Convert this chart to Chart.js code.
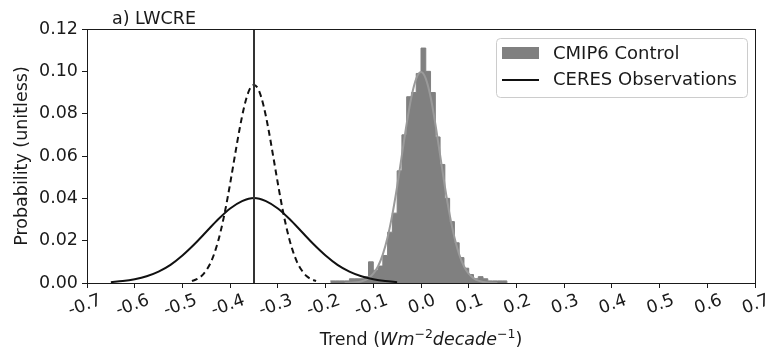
<!DOCTYPE html>
<html>
<head>
<meta charset="utf-8">
<script src="https://cdn.jsdelivr.net/npm/chart.js@4.4.1/dist/chart.umd.min.js"></script>
<style>
  html, body { margin: 0; padding: 0; background: #fff; }
</style>
</head>
<body>
<canvas id="myChart" width="770" height="355"></canvas>
<script>
// CMIP6 control histogram: bin edges (last one closes the final bin) and probability per bin
const binEdges = [-0.19, -0.18, -0.17, -0.16, -0.15, -0.14, -0.13, -0.12, -0.11, -0.10,
                  -0.09, -0.08, -0.07, -0.06, -0.05, -0.04, -0.03, -0.02, -0.01, 0.00,
                  0.01, 0.02, 0.03, 0.04, 0.05, 0.06, 0.07, 0.08, 0.09, 0.10,
                  0.11, 0.12, 0.13, 0.14, 0.15, 0.16, 0.17, 0.18];
const binProbs = [0.001, 0.001, 0.001, 0.001, 0.002, 0.002, 0.002, 0.003, 0.010, 0.006,
                  0.008, 0.013, 0.024, 0.033, 0.053, 0.070, 0.088, 0.090, 0.099, 0.111,
                  0.100, 0.090, 0.069, 0.056, 0.040, 0.029, 0.019, 0.012, 0.007, 0.004,
                  0.002, 0.003, 0.002, 0.001, 0.001, 0.001, 0.001];

// fitted curve drawn over the histogram
const fitX = [-0.16, -0.15, -0.14, -0.13, -0.12, -0.11, -0.10, -0.09, -0.08, -0.07, -0.06,
              -0.05, -0.04, -0.03, -0.02, -0.01, 0.00, 0.01, 0.02, 0.03, 0.04, 0.05,
              0.06, 0.07, 0.08, 0.09, 0.10, 0.11, 0.12, 0.13, 0.14, 0.15, 0.16];
const fitY = [0.0000, 0.0001, 0.0002, 0.0005, 0.0011, 0.0023, 0.0044, 0.0079, 0.0135, 0.0216, 0.0324,
              0.0456, 0.0605, 0.0753, 0.0880, 0.0966, 0.0997, 0.0966, 0.0880, 0.0753, 0.0605, 0.0456,
              0.0324, 0.0216, 0.0135, 0.0079, 0.0044, 0.0023, 0.0011, 0.0005, 0.0002, 0.0001, 0.0000];

// CERES observations: wide (solid) and narrow (dashed) curves, plus the central trend
const obsX = [-0.650, -0.625, -0.600, -0.575, -0.550, -0.525, -0.500, -0.475, -0.450, -0.425,
              -0.400, -0.375, -0.350, -0.325, -0.300, -0.275, -0.250, -0.225, -0.200, -0.175,
              -0.150, -0.125, -0.100, -0.075, -0.050];
const obsY = [0.0004, 0.0009, 0.0018, 0.0032, 0.0054, 0.0086, 0.0130, 0.0183, 0.0242, 0.0301,
              0.0352, 0.0387, 0.0402, 0.0387, 0.0352, 0.0301, 0.0242, 0.0183, 0.0130, 0.0086,
              0.0054, 0.0032, 0.0018, 0.0009, 0.0004];
const obsNarrowX = [-0.48, -0.47, -0.46, -0.45, -0.44, -0.43, -0.42, -0.41, -0.40, -0.39, -0.38,
                    -0.37, -0.36, -0.35, -0.34, -0.33, -0.32, -0.31, -0.30, -0.29, -0.28,
                    -0.27, -0.26, -0.25, -0.24, -0.23, -0.22];
const obsNarrowY = [0.0009, 0.0018, 0.0033, 0.0060, 0.0100, 0.0161, 0.0243, 0.0347, 0.0470, 0.0602, 0.0730,
                    0.0838, 0.0911, 0.0936, 0.0911, 0.0838, 0.0730, 0.0602, 0.0470, 0.0347, 0.0243,
                    0.0161, 0.0100, 0.0060, 0.0033, 0.0018, 0.0009];
const obsTrend = -0.35;

const FONT = '"DejaVu Sans", sans-serif';
const INK = '#1a1a1a';

const toPoints = (xs, ys) => xs.map((x, i) => ({ x: x, y: ys[i] }));

// stepped line needs the closing edge too, dropping to zero
const histData = binEdges.map((x, i) => ({ x: x, y: i < binProbs.length ? binProbs[i] : 0 }));

// frame, panel title, axis label with superscripts, legend box
const extras = {
  id: 'extras',
  afterDraw(chart) {
    const ctx = chart.ctx;
    const a = chart.chartArea;
    ctx.save();

    ctx.strokeStyle = INK;
    ctx.lineWidth = 1;
    ctx.strokeRect(Math.round(a.left) + 0.5, Math.round(a.top) + 0.5,
                   Math.round(a.right - a.left), Math.round(a.bottom - a.top));

    ctx.fillStyle = INK;
    ctx.font = '17.5px ' + FONT;
    ctx.textAlign = 'left';
    ctx.textBaseline = 'alphabetic';
    ctx.fillText('a) LWCRE', 112, 24);

    // x axis label: Trend (Wm^-2 decade^-1)
    const parts = [
      { t: 'Trend (', f: '17.5px ' + FONT, dy: 0 },
      { t: 'Wm', f: 'italic 17.5px ' + FONT, dy: 0 },
      { t: '\u22122', f: '12.5px ' + FONT, dy: -7 },
      { t: 'decade', f: 'italic 17.5px ' + FONT, dy: 0 },
      { t: '\u22121', f: '12.5px ' + FONT, dy: -7 },
      { t: ')', f: '17.5px ' + FONT, dy: 0 }
    ];
    let total = 0;
    parts.forEach(p => { ctx.font = p.f; p.w = ctx.measureText(p.t).width; total += p.w; });
    let x = (a.left + a.right) / 2 - total / 2;
    parts.forEach(p => {
      ctx.font = p.f;
      ctx.fillText(p.t, x, 345 + p.dy);
      x += p.w;
    });

    // legend
    const lx = 496, ly = 38, lw = 251, lh = 59, r = 4;
    ctx.beginPath();
    ctx.roundRect(lx + 0.5, ly + 0.5, lw, lh, r);
    ctx.fillStyle = 'rgba(255,255,255,0.8)';
    ctx.fill();
    ctx.strokeStyle = '#cccccc';
    ctx.lineWidth = 1;
    ctx.stroke();

    const ds = chart.data.datasets;
    ctx.fillStyle = ds[0].backgroundColor;
    ctx.fillRect(502, 47, 37, 12);
    ctx.strokeStyle = ds[2].borderColor;
    ctx.lineWidth = 2;
    ctx.beginPath();
    ctx.moveTo(502, 80);
    ctx.lineTo(539, 80);
    ctx.stroke();

    ctx.fillStyle = INK;
    ctx.font = '18px ' + FONT;
    ctx.textBaseline = 'middle';
    ctx.fillText(ds[0].label, 553, 54);
    ctx.fillText(ds[2].label, 553, 80);
    ctx.restore();
  }
};

const ctx = document.getElementById('myChart').getContext('2d');

new Chart(ctx, {
  type: 'line',
  data: {
    datasets: [
      {
        label: 'CMIP6 Control',
        data: histData,
        stepped: 'before',
        fill: 'origin',
        backgroundColor: '#808080',
        borderColor: '#808080',
        borderWidth: 1,
        pointRadius: 0,
        order: 5
      },
      {
        label: 'Control fit',
        data: toPoints(fitX, fitY),
        borderColor: '#9a9a9a',
        borderWidth: 2,
        cubicInterpolationMode: 'monotone',
        pointRadius: 0,
        fill: false,
        order: 4
      },
      {
        label: 'CERES Observations',
        data: toPoints(obsX, obsY),
        borderColor: '#111111',
        borderWidth: 2,
        cubicInterpolationMode: 'monotone',
        pointRadius: 0,
        fill: false,
        order: 3
      },
      {
        label: 'CERES narrow',
        data: toPoints(obsNarrowX, obsNarrowY),
        borderColor: '#111111',
        borderWidth: 2,
        borderDash: [6, 4],
        cubicInterpolationMode: 'monotone',
        pointRadius: 0,
        fill: false,
        order: 2
      },
      {
        label: 'CERES trend',
        data: [{ x: obsTrend, y: 0 }, { x: obsTrend, y: 0.12 }],
        borderColor: '#333333',
        borderWidth: 2,
        pointRadius: 0,
        fill: false,
        order: 1
      }
    ]
  },
  options: {
    responsive: false,
    animation: false,
    devicePixelRatio: 1,
    layout: { padding: { top: 29, right: 15, left: 0, bottom: 0 } },
    plugins: {
      legend: { display: false },
      tooltip: { enabled: false },
      title: { display: false }
    },
    scales: {
      x: {
        type: 'linear',
        min: -0.7,
        max: 0.7,
        afterFit: s => { s.height = 72; },
        grid: { display: true, drawOnChartArea: false, drawTicks: true, tickLength: 5, tickColor: INK },
        border: { display: true, color: INK, width: 1 },
        ticks: {
          stepSize: 0.1,
          autoSkip: false,
          minRotation: 20,
          maxRotation: 20,
          labelOffset: 14,
          padding: 2,
          color: INK,
          font: { family: FONT, size: 17.5 },
          callback: v => (Math.abs(v) < 1e-9 ? 0 : v).toFixed(1)
        }
      },
      y: {
        min: 0,
        max: 0.12,
        afterFit: s => { s.width = 87; },
        grid: { display: true, drawOnChartArea: false, drawTicks: true, tickLength: 5, tickColor: INK },
        border: { display: true, color: INK, width: 1 },
        title: {
          display: true,
          text: 'Probability (unitless)',
          color: INK,
          font: { family: FONT, size: 17.5 },
          padding: { top: 12, bottom: 0 }
        },
        ticks: {
          stepSize: 0.02,
          padding: 4,
          color: INK,
          font: { family: FONT, size: 17.5 },
          callback: v => v.toFixed(2)
        }
      }
    }
  },
  plugins: [extras]
});
</script>
</body>
</html>
